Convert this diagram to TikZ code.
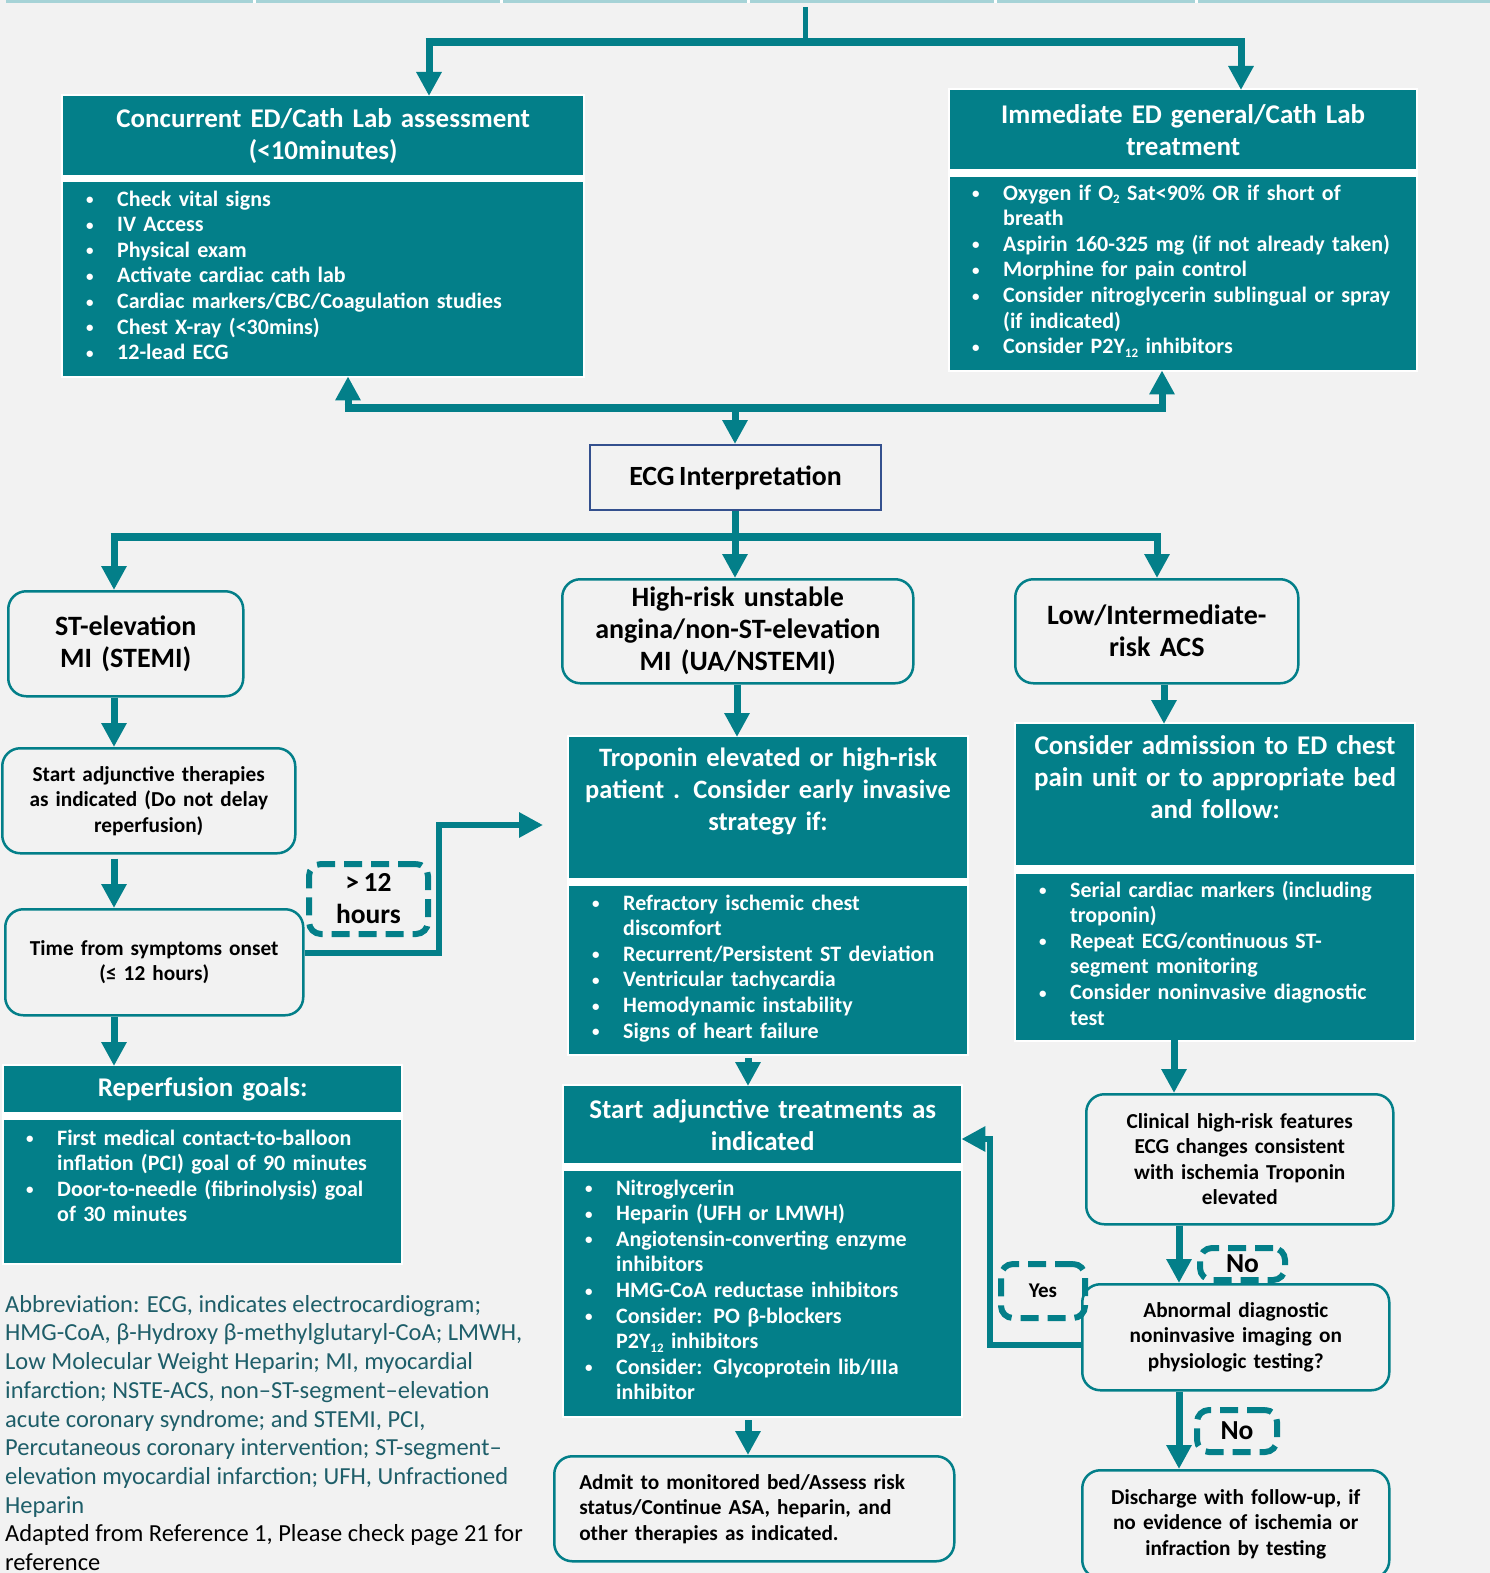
\documentclass[tikz,border=0pt]{standalone}
\usepackage{fontspec}
\setmainfont{Carlito}[WordSpace=0.72]
\newfontfamily\abbrfont{Carlito}
\usetikzlibrary{arrows.meta,calc}
\definecolor{acsteal}{HTML}{037F89}
\definecolor{bgc}{HTML}{F2F2F2}
\definecolor{stripc}{HTML}{A6D3D7}
\definecolor{ecgblue}{HTML}{34508E}
\definecolor{abbrc}{HTML}{1E5E69}
% bullet item with hanging indent
\newlength\bind
\setlength\bind{31pt}
\newcommand\smallbullet{\raisebox{1.5pt}{\fontsize{15}{15}\selectfont\textbullet}}
\newcommand\bitem[1]{\noindent\hangindent=\bind\hangafter=1\strut\makebox[\bind][l]{\smallbullet}#1\par}
\newcommand\lowidx[1]{\raisebox{-3.5pt}{\fontsize{13}{13}\selectfont #1}}
\begin{document}
\begin{tikzpicture}[x=1pt,y=-1pt,
  flow/.style={draw=acsteal,line width=7pt},
  bar/.style={draw=acsteal,line width=8pt},
  arr/.style={flow,-{Triangle[length=24pt,width=24pt]}},
  tealbox/.style={fill=acsteal,draw=none,anchor=north west,inner sep=0pt,text=white,align=center,
    font=\bfseries\fontsize{27}{32}\selectfont},
  listtxt/.style={anchor=north west,inner sep=0pt,text=white,align=left,text width=440,
    font=\bfseries\fontsize{22}{25.6}\selectfont},
  rbox/.style={draw=acsteal,line width=2.5pt,rounded corners=18pt,fill=bgc,anchor=north west,
    inner sep=0pt,align=center,font=\bfseries\fontsize{21.3}{25.5}\selectfont},
  bigtxt/.style={font=\bfseries\fontsize{28}{32}\selectfont},
  dlabel/.style={draw=acsteal,line width=6pt,dash pattern=on 18pt off 9pt,rounded corners=12pt,
    anchor=north west,inner sep=0pt,align=center,font=\bfseries\fontsize{27.5}{32}\selectfont}
]
\useasboundingbox (0,0) rectangle (1490,1573);
\fill[bgc] (0,0) rectangle (1490,1573);
% thin strip along the top edge
\fill[stripc] (6,0) rectangle (1490,3);
\foreach \g in {254,501,748,995,1196} \fill[white] (\g-1.5,0) rectangle (\g+1.5,3);

% ---------- white backings behind the teal panel pairs ----------
\fill[white] (61,94) rectangle (585,378);
\fill[white] (948,88) rectangle (1418,372);
\fill[white] (2,1064) rectangle (403,1265);
\fill[white] (567,735) rectangle (969,1056);
\fill[white] (562,1084) rectangle (963,1418);
\fill[white] (1014,722) rectangle (1416,1042);

% ---------- teal panels ----------
\node[tealbox,minimum width=520,minimum height=79,text width=500] (hdrA) at (63,96)
  {Concurrent ED/Cath Lab assessment\\(<10minutes)};
\node[tealbox,minimum width=520,minimum height=194] (listA) at (63,182) {};
\node[listtxt] (listAt) at (86,188) {%
  \bitem{Check vital signs}
  \bitem{IV Access}
  \bitem{Physical exam}
  \bitem{Activate cardiac cath lab}
  \bitem{Cardiac markers/CBC/Coagulation studies}
  \bitem{Chest X-ray (<30mins)}
  \bitem{12-lead ECG}};

\node[tealbox,minimum width=466,minimum height=79,text width=446] (hdrB) at (950,90)
  {Immediate ED general/Cath Lab\\treatment};
\node[tealbox,minimum width=466,minimum height=193] (listB) at (950,177) {};
\node[listtxt] (listBt) at (972,182) {%
  \bitem{Oxygen if O\lowidx{2} Sat<90\% OR if short of\newline breath}
  \bitem{Aspirin 160-325 mg (if not already taken)}
  \bitem{Morphine for pain control}
  \bitem{Consider nitroglycerin sublingual or spray\newline (if indicated)}
  \bitem{Consider P2Y\lowidx{12} inhibitors}};

\node[tealbox,minimum width=397,minimum height=46,text width=380] (rhdr) at (4,1066)
  {Reperfusion goals:};
\node[tealbox,minimum width=397,minimum height=143] (rlist) at (4,1120) {};
\node[listtxt] (rlistt) at (26,1127) {%
  \bitem{First medical contact-to-balloon\newline inflation (PCI) goal of 90 minutes}
  \bitem{Door-to-needle (fibrinolysis) goal\newline of 30 minutes}};

\node[tealbox,minimum width=398,minimum height=141] (thdr) at (569,737) {};
\node[tealbox,anchor=north,fill=none,text width=390,font=\bfseries\fontsize{26.5}{32}\selectfont] (thdrt) at (768,748)
  {Troponin elevated or high-risk\\patient . Consider early invasive\\strategy if:};
\node[tealbox,minimum width=398,minimum height=168] (tlist) at (569,886) {};
\node[listtxt] (tlistt) at (592,892) {%
  \bitem{Refractory ischemic chest\newline discomfort}
  \bitem{Recurrent/Persistent ST deviation}
  \bitem{Ventricular tachycardia}
  \bitem{Hemodynamic instability}
  \bitem{Signs of heart failure}};

\node[tealbox,minimum width=397,minimum height=77,text width=390] (ahdr) at (564,1086)
  {Start adjunctive treatments as\\indicated};
\node[tealbox,minimum width=397,minimum height=245] (alist) at (564,1171) {};
\node[listtxt] (alistt) at (585,1177) {%
  \bitem{Nitroglycerin}
  \bitem{Heparin (UFH or LMWH)}
  \bitem{Angiotensin-converting enzyme\newline inhibitors}
  \bitem{HMG-CoA reductase inhibitors}
  \bitem{Consider: PO β-blockers\newline P2Y\lowidx{12} inhibitors}
  \bitem{Consider: Glycoprotein lib/IIIa\newline inhibitor}};

\node[tealbox,minimum width=398,minimum height=141] (chdr) at (1016,724) {};
\node[tealbox,anchor=north,fill=none,text width=390] (chdrt) at (1215,735)
  {Consider admission to ED chest\\pain unit or to appropriate bed\\and follow:};
\node[tealbox,minimum width=398,minimum height=166] (clist) at (1016,874) {};
\node[listtxt] (clistt) at (1039,879) {%
  \bitem{Serial cardiac markers (including\newline troponin)}
  \bitem{Repeat ECG/continuous ST-\newline segment monitoring}
  \bitem{Consider noninvasive diagnostic\newline test}};

% ---------- ECG box ----------
\node[draw=ecgblue,line width=2pt,fill=bgc,anchor=north west,minimum width=291,minimum height=65,
  inner sep=0pt,font=\bfseries\fontsize{27.8}{30}\selectfont] (ecg) at (589,444) {ECG Interpretation};

% ---------- rounded decision boxes ----------
\node[rbox,bigtxt,minimum width=235,minimum height=105,text width=220] (stemi) at (7,590)
  {ST-elevation\\MI (STEMI)};
\node[rbox,bigtxt,minimum width=351,minimum height=104,text width=340] (nstemi) at (561,578)
  {High-risk unstable\\angina/non-ST-elevation\\MI (UA/NSTEMI)};
\node[rbox,bigtxt,minimum width=283,minimum height=104,text width=270] (lowint) at (1014,578)
  {Low/Intermediate-\\risk ACS};
\node[rbox,minimum width=293,minimum height=105,text width=280] (adj) at (1,747)
  {Start adjunctive therapies\\as indicated (Do not delay\\reperfusion)};
\node[rbox,minimum width=298,minimum height=106,text width=285] (time) at (4,908)
  {Time from symptoms onset\\(≤ 12 hours)};
\node[rbox,align=left,minimum width=400,minimum height=105,text width=350] (admit) at (553,1455)
  {Admit to monitored bed/Assess risk\\status/Continue ASA, heparin, and\\other therapies as indicated.};
\node[rbox,minimum width=307,minimum height=130,text width=295] (clin) at (1085,1093)
  {Clinical high-risk features\\ECG changes consistent\\with ischemia Troponin\\elevated};
\node[rbox,minimum width=307,minimum height=106,text width=295] (abn) at (1081,1283)
  {Abnormal diagnostic\\noninvasive imaging on\\physiologic testing?};
\node[rbox,minimum width=307,minimum height=108,text width=295] (disch) at (1081,1469)
  {Discharge with follow-up, if\\no evidence of ischemia or\\infraction by testing};

% ---------- dashed branch labels ----------
\node[dlabel,minimum width=119,minimum height=70] (gt12) at (306,861) {> 12\\hours};
\node[dlabel,minimum width=84,minimum height=54,font=\bfseries\fontsize{21}{24}\selectfont] (yes) at (998,1261) {Yes};
\node[dlabel,minimum width=85,minimum height=32] (no1) at (1197,1245) {No};
\node[dlabel,minimum width=80,minimum height=42] (no2) at (1194,1407) {No};

% ---------- connectors: entry split ----------
\coordinate (in) at (805,7);
\coordinate (sp) at (805,42);
\coordinate (spA) at (429,42);
\coordinate (spB) at (1241,42);
\draw[flow,line width=5pt] (in) -- (sp);
\draw[bar] ($(spA)+(-3.5,0)$) -- ($(spB)+(3.5,0)$);
\draw[arr] (spA) -- (spA |- hdrA.north);
\draw[arr] (spB) -- (spB |- hdrB.north);

% ---------- connectors: assessment / treatment join ----------
\coordinate (j2) at (735,408);
\coordinate (j2A) at (348,408);
\coordinate (j2B) at (1162,408);
\draw[bar] ($(j2A)+(-3.5,0)$) -- ($(j2B)+(3.5,0)$);
\draw[arr] (j2A) -- (j2A |- listA.south);
\draw[arr] (j2B) -- (j2B |- listB.south);
\draw[arr] (j2) -- (j2 |- ecg.north);

% ---------- connectors: ECG three-way split ----------
\coordinate (j3) at (735,537);
\coordinate (j3A) at (114,537);
\coordinate (j3B) at (1157,537);
\draw[flow] (ecg.south -| j3) -- (j3);
\draw[bar] ($(j3A)+(-3.5,0)$) -- ($(j3B)+(3.5,0)$);
\draw[arr] (j3A) -- (j3A |- stemi.north);
\draw[arr] (j3) -- (j3 |- nstemi.north);
\draw[arr] (j3B) -- (j3B |- lowint.north);

% ---------- STEMI column ----------
\coordinate (cS) at (114,0);
\draw[arr] (stemi.south -| cS) -- (adj.north -| cS);
\draw[arr] ($(adj.south -| cS)+(0,4)$) -- (time.north -| cS);
\draw[arr] (time.south -| cS) -- (rhdr.north -| cS);
\coordinate (k1) at (439,953);
\coordinate (k2) at (439,825);
\coordinate (k3) at (543,825);
\draw[arr,line width=6pt] (time.east |- k1) -- (k1) -- (k2) -- (k3);

% ---------- NSTEMI column ----------
\coordinate (cN) at (737,0);
\coordinate (cN2) at (748,0);
\draw[arr] (nstemi.south -| cN) -- (thdr.north -| cN);
\draw[arr] ($(tlist.south -| cN2)+(0,4)$) -- (ahdr.north -| cN2);
\draw[arr] ($(alist.south -| cN2)+(0,4)$) -- (admit.north -| cN2);

% ---------- low / intermediate risk column ----------
\coordinate (cL) at (1164,0);
\coordinate (cL2) at (1174,0);
\coordinate (cL3) at (1179,0);
\draw[arr] (lowint.south -| cL) -- (chdr.north -| cL);
\draw[arr] (clist.south -| cL2) -- (clin.north -| cL2);
\draw[arr] (clin.south -| cL3) -- (abn.north -| cL3);
\draw[arr] (abn.south -| cL3) -- (disch.north -| cL3);
\coordinate (yb) at (990,1345);
\coordinate (yc) at (990,1139);
\draw[arr,line width=6pt] (abn.west |- yb) -- (yb) -- (yc) -- (yc -| ahdr.east);

% ---------- abbreviations ----------
\node[anchor=north west,inner sep=0pt,align=left,text=abbrc,
  font=\abbrfont\fontsize{24.5}{28.7}\selectfont] (abbr) at (5,1292) {\rule{0pt}{20pt}Abbreviation: ECG, indicates electrocardiogram;\\
HMG-CoA, β-Hydroxy β-methylglutaryl-CoA; LMWH,\\
Low Molecular Weight Heparin; MI, myocardial\\
infarction; NSTE-ACS, non–ST-segment–elevation\\
acute coronary syndrome; and STEMI, PCI,\\
Percutaneous coronary intervention; ST-segment–\\
elevation myocardial infarction; UFH, Unfractioned\\
Heparin\\
\textcolor{black}{Adapted from Reference 1, Please check page 21 for}\\
\textcolor{black}{reference}};
\end{tikzpicture}
\end{document}
